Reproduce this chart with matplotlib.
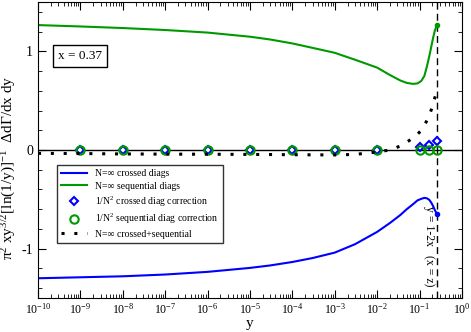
import numpy as np
import matplotlib
matplotlib.use("Agg")
from matplotlib import pyplot as plt, ticker

plt.rcParams['font.family'] = ['Liberation Serif', 'DejaVu Serif']
plt.rcParams['mathtext.fontset'] = 'custom'
plt.rcParams['mathtext.rm'] = 'Liberation Serif'
plt.rcParams['mathtext.it'] = 'Liberation Serif:italic'

# curves
y_grid = [1e-10, 1e-9, 1e-8, 1e-7, 1e-6, 1e-5, 3e-5, 1e-4, 3e-4, 1e-3, 3e-3, 1e-2, 2e-2, 3.5e-2,
          0.05, 0.07, 0.09, 0.11, 0.13, 0.15, 0.17, 0.19, 0.21, 0.23, 0.26]
seq = [1.266, 1.252, 1.236, 1.216, 1.19, 1.148, 1.12, 1.08, 1.035, 0.985, 0.915, 0.835, 0.76, 0.705,
       0.68, 0.67, 0.675, 0.70, 0.75, 0.85, 0.95, 1.05, 1.14, 1.21, 1.27]
crossed = [-1.30, -1.29, -1.28, -1.262, -1.235, -1.195, -1.17, -1.135, -1.095, -1.04, -0.955, -0.83,
           -0.74, -0.66, -0.60, -0.55, -0.51, -0.495, -0.485, -0.49, -0.505, -0.535, -0.57, -0.61, -0.65]
total = [-0.034, -0.036, -0.04, -0.042, -0.043, -0.045, -0.046, -0.048, -0.049, -0.05, -0.045, -0.02,
         0.0, 0.04, 0.08, 0.12, 0.16, 0.2, 0.25, 0.3, 0.35, 0.41, 0.47, 0.53, 0.61]

# 1/N^2 corrections
y_corr = [1e-9, 1e-8, 1e-7, 1e-6, 1e-5, 1e-4, 1e-3, 1e-2, 0.1, 0.17, 0.26]
crossed_corr = [0, 0, 0, 0, 0, 0, 0, 0, 0.03, 0.05, 0.093]
seq_corr = [0, 0, 0, 0, 0, 0, 0, 0, 0, 0, 0]

y_end = 0.26

fig = plt.figure(figsize=(4.71, 3.32), dpi=100)
ax = fig.add_axes([0.0807, 0.1024, 0.900, 0.8916])

ax.axhline(0, color='black', lw=1)
ax.axvline(y_end, color='black', lw=1, ls=(0, (5, 3)))

ax.plot(y_grid, crossed, color='#0000ff', lw=1.5, label='N=∞ crossed diags')
ax.plot(y_grid, seq, color='#009900', lw=1.5, label='N=∞ sequential diags')
ax.plot(y_grid[-1], crossed[-1], 'o', color='#0000ff', ms=3)
ax.plot(y_grid[-1], seq[-1], 'o', color='#009900', ms=3)
ax.plot(y_corr, crossed_corr, 'D', ls='none', mfc='white', mec='#0000ff', mew=1.5, ms=3.6,
        label='1/N$^2$ crossed diag correction')
ax.plot(y_corr, seq_corr, 'o', ls='none', mfc='none', mec='#009900', mew=1.5, ms=6,
        label='1/N$^2$ sequential diag correction')
ax.plot(y_grid, total, color='black', lw=2.2, ls=(0, (1, 3.2)),
        label='N=∞ crossed+sequential')

ax.set_xscale('log')
ax.set_xlim(1e-10, 1)
ax.set_ylim(-1.5, 1.5)
ax.xaxis.set_major_locator(ticker.LogLocator(base=10, numticks=15))
ax.xaxis.set_minor_locator(ticker.LogLocator(base=10, subs=np.arange(2, 10), numticks=15))
ax.xaxis.set_minor_formatter(ticker.NullFormatter())
ax.yaxis.set_major_locator(ticker.MultipleLocator(1))
ax.yaxis.set_minor_locator(ticker.MultipleLocator(0.2))
ax.yaxis.set_major_formatter(ticker.FuncFormatter(lambda v, p: '%d' % v))
ax.tick_params(which='both', direction='in', top=True, right=True)
ax.tick_params(axis='x', labelsize=8.5, pad=3)
ax.tick_params(axis='y', labelsize=10)
ax.tick_params(which='major', length=6)
ax.tick_params(which='minor', length=3)

ax.set_xlabel('y', fontsize=11, labelpad=0)
ax.set_ylabel('π$^2$ xy$^{3/2}$[ln(1/y)]$^{-1}$  ΔdΓ/dx dy', fontsize=11)
ax.yaxis.set_label_coords(-0.048, 0.44)

ax.text(0.047, 0.818, 'x = 0.37', transform=ax.transAxes, fontsize=9.5, va='center',
        bbox=dict(boxstyle='square,pad=0.4', fc='white', ec='black', lw=1))
ax.text(0.167, -0.57, 'y = 1-2x   (x = z)', rotation=-90, fontsize=8.5,
        ha='center', va='top')

leg = ax.legend(loc='upper left', bbox_to_anchor=(0.045, 0.449), fontsize=7,
                frameon=True, fancybox=False, edgecolor='black', handlelength=2.6,
                handletextpad=0.9, borderpad=0.45, labelspacing=0.35,
                borderaxespad=0, numpoints=1)
leg.get_frame().set_linewidth(1)

fig.savefig('out.png', dpi=100)
